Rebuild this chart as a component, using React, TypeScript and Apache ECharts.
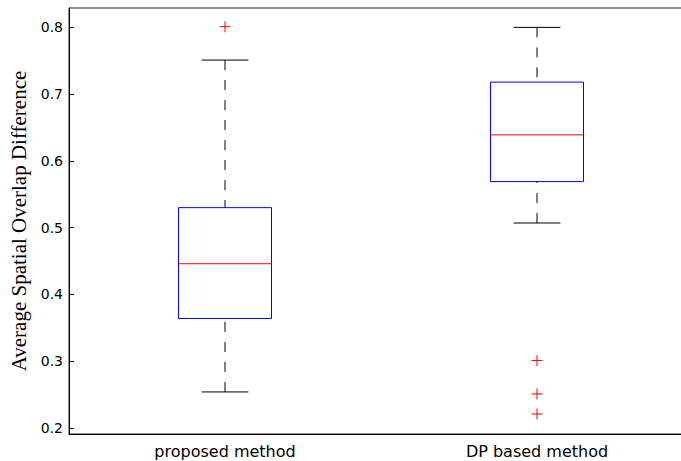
import React, { useEffect, useRef } from "react";
import * as echarts from "echarts";

const categories = ["proposed method", "DP based method"];
const lowerWhisker = [0.254, 0.507];
const q1 = [0.364, 0.569];
const median = [0.446, 0.639];
const q3 = [0.53, 0.718];
const upperWhisker = [0.751, 0.8];
const outlierCategory = [0, 1, 1, 1];
const outlierValue = [0.801, 0.301, 0.251, 0.221];
const yTickLabels = ["0.2", "0.3", "0.4", "0.5", "0.6", "0.7", "0.8"];
const yMin = 0.191;
const yMax = 0.829;

export default function App() {
  const ref = useRef<HTMLDivElement>(null);
  useEffect(() => {
    if (!ref.current) return;
    const chart = echarts.init(ref.current, null, { renderer: "svg" });
    const boxData = categories.map((_, i) => [i, lowerWhisker[i], q1[i], median[i], q3[i], upperWhisker[i]]);
    const outData = outlierCategory.map((c, i) => [c, outlierValue[i]]);
    chart.setOption({
      animation: false,
      grid: {
        left: 69,
        top: 8,
        width: 624,
        height: 426,
        containLabel: false,
        outerBoundsMode: "none",
        show: true,
        borderColor: "#222",
        borderWidth: 1,
        backgroundColor: "transparent",
      },
      xAxis: {
        type: "category",
        data: categories,
        axisTick: { show: false },
        axisLine: { lineStyle: { color: "#000", width: 1 } },
        axisLabel: { color: "#000", fontFamily: "DejaVu Sans", fontSize: 16, margin: 9 },
      },
      yAxis: {
        type: "value",
        min: yMin,
        max: yMax,
        splitLine: { show: false },
        axisLine: { show: true, lineStyle: { color: "#000", width: 1 } },
        axisTick: { show: true, inside: true, length: 5, lineStyle: { color: "#000" } },
        axisLabel: {
          color: "#000",
          fontFamily: "DejaVu Sans",
          fontSize: 14,
          margin: 6,
          showMinLabel: false,
          showMaxLabel: false,
          formatter: (v: number) => {
            const s = v.toFixed(1);
            return yTickLabels.includes(s) && Math.abs(v - parseFloat(s)) < 1e-6 ? s : "";
          },
        },
        name: "Average Spatial Overlap Difference",
        nameLocation: "middle",
        nameGap: 39,
        nameTextStyle: { color: "#000", fontFamily: "Liberation Serif", fontSize: 21 },
      },
      series: [
        {
          type: "custom",
          data: boxData,
          encode: { x: 0, y: [1, 2, 3, 4, 5] },
          renderItem: (params: any, api: any) => {
            const idx = api.value(0);
            const band = api.size([1, 0])[0];
            const boxHalf = band * 0.149;
            const capHalf = band * 0.075;
            const x = api.coord([idx, 0])[0];
            const yLo = api.coord([idx, api.value(1)])[1];
            const yQ1 = api.coord([idx, api.value(2)])[1];
            const yMed = api.coord([idx, api.value(3)])[1];
            const yQ3 = api.coord([idx, api.value(4)])[1];
            const yHi = api.coord([idx, api.value(5)])[1];
            const dashStyle = { stroke: "#000", lineWidth: 1, lineDash: [10, 10] };
            return {
              type: "group",
              children: [
                { type: "line", shape: { x1: x, y1: yHi, x2: x, y2: yQ3 }, style: dashStyle },
                { type: "line", shape: { x1: x, y1: yLo, x2: x, y2: yQ1 }, style: dashStyle },
                { type: "line", shape: { x1: x - capHalf, y1: yHi, x2: x + capHalf, y2: yHi }, style: { stroke: "#000", lineWidth: 1 } },
                { type: "line", shape: { x1: x - capHalf, y1: yLo, x2: x + capHalf, y2: yLo }, style: { stroke: "#000", lineWidth: 1 } },
                {
                  type: "rect",
                  shape: { x: x - boxHalf, y: yQ3, width: boxHalf * 2, height: yQ1 - yQ3 },
                  style: { fill: "none", stroke: "#0000ff", lineWidth: 1 },
                },
                { type: "line", shape: { x1: x - boxHalf, y1: yMed, x2: x + boxHalf, y2: yMed }, style: { stroke: "#ff0000", lineWidth: 1 } },
              ],
            };
          },
        },
        {
          type: "custom",
          data: outData,
          encode: { x: 0, y: 1 },
          renderItem: (params: any, api: any) => {
            const p = api.coord([api.value(0), api.value(1)]);
            const h = 5.5;
            const st = { stroke: "#ff0000", lineWidth: 1 };
            return {
              type: "group",
              children: [
                { type: "line", shape: { x1: p[0] - h, y1: p[1], x2: p[0] + h, y2: p[1] }, style: st },
                { type: "line", shape: { x1: p[0], y1: p[1] - h, x2: p[0], y2: p[1] + h }, style: st },
              ],
            };
          },
        },
      ],
    });
    return () => chart.dispose();
  }, []);
  return <div ref={ref} style={{ position: "absolute", left: 0, top: 0, width: 681, height: 461 }} />;
}
